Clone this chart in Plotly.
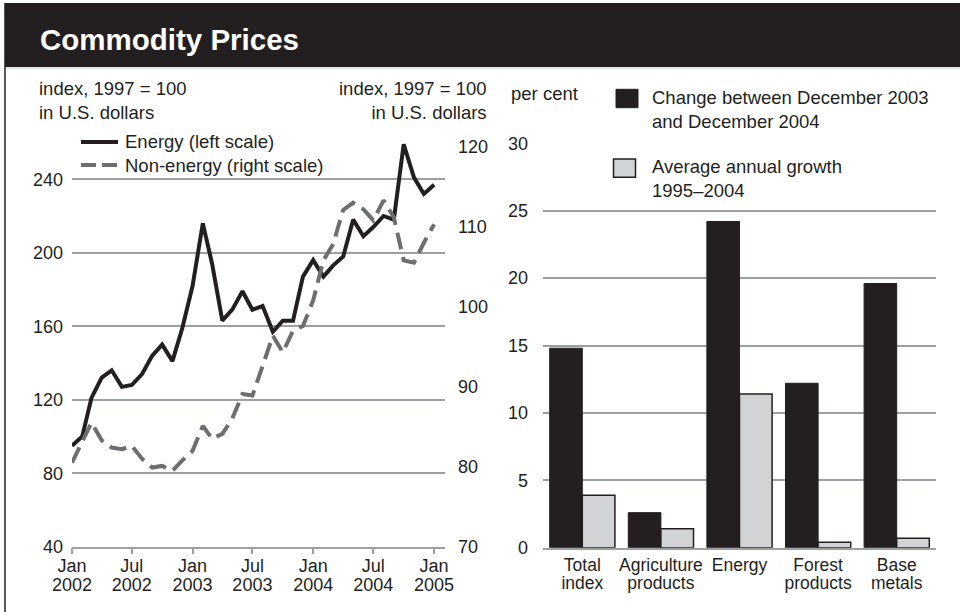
import plotly.graph_objects as go

# ---------------- data ----------------
months = [f"{y}-{m:02d}-01" for y in (2002, 2003, 2004) for m in range(1, 13)] + ["2005-01-01"]
energy = [95, 100, 121, 132, 136, 127, 128, 134, 144, 150, 141, 159,
          182, 216, 194, 163, 169, 179, 169, 171, 157, 163, 163, 187,
          196, 187, 193, 198, 218, 209, 214, 220, 218, 259, 241, 232,
          237]
non_energy = [80.5, 83.0, 85.5, 83.3, 82.4, 82.2, 82.6, 81.0, 79.9, 80.1, 79.5, 80.8,
              82.0, 85.1, 83.5, 84.1, 86.0, 89.1, 88.9, 92.6, 96.4, 94.3, 97.0, 97.6,
              100.8, 105.8, 107.8, 112.1, 113.0, 112.2, 110.8, 113.3, 111.2, 105.8, 105.5, 108.0,
              110.3]
left_ticks = [40, 80, 120, 160, 200, 240]
right_ticks = [70, 80, 90, 100, 110, 120]

categories = ["Total index", "Agriculture products", "Energy", "Forest products", "Base metals"]
cat_line1 = ["Total", "Agriculture", "Energy", "Forest", "Base"]
cat_line2 = ["index", "products", "", "products", "metals"]
change_0304 = [14.8, 2.6, 24.2, 12.2, 19.6]
avg_growth = [3.9, 1.4, 11.4, 0.4, 0.7]
bar_ticks = [0, 5, 10, 15, 20, 25, 30]

energy_name = "Energy (left scale)"
nonenergy_name = "Non-energy (right scale)"
change_name = "Change between December 2003<br>and December 2004"
growth_name = "Average annual growth<br>1995–2004"

# ---------------- style ----------------
W, H = 960, 612
INK = "#231f20"
DASHGRAY = "#6d6e71"
LIGHT = "#d1d3d4"
GRID = "#9d9fa2"
FONT = "Liberation Sans, Arial, sans-serif"
FS = 18
CFS = 17.5
AFS = 18.5

def px(x):
    return x / W

def py(y):
    return (H - y) / H

date_range = ["2002-01-01", "2005-02-03"]

fig = go.Figure()
fig.add_trace(go.Scatter(x=months, y=energy, name=energy_name, mode="lines",
                         line=dict(color=INK, width=4), xaxis="x", yaxis="y",
                         showlegend=False))
fig.add_trace(go.Scatter(x=months, y=non_energy, name=nonenergy_name, mode="lines",
                         line=dict(color=DASHGRAY, width=4, dash="17px,8px"),
                         xaxis="x", yaxis="y2", showlegend=False))
# invisible carrier so the year-label axis is drawn
fig.add_trace(go.Scatter(x=months, y=energy, mode="lines", line=dict(width=0), opacity=0,
                         hoverinfo="skip", xaxis="x3", yaxis="y", showlegend=False))
fig.add_trace(go.Bar(x=categories, y=change_0304, name=change_name,
                     marker=dict(color=INK, line=dict(color=INK, width=1)),
                     xaxis="x2", yaxis="y3", showlegend=False))
fig.add_trace(go.Bar(x=categories, y=avg_growth, name=growth_name,
                     marker=dict(color=LIGHT, line=dict(color=INK, width=1.5)),
                     xaxis="x2", yaxis="y3", showlegend=False))
# invisible carrier so the second category-label line axis is drawn
fig.add_trace(go.Scatter(x=list(range(len(categories))), y=change_0304, mode="lines",
                         line=dict(width=0), opacity=0, hoverinfo="skip",
                         xaxis="x4", yaxis="y3", showlegend=False))

tickfont = dict(family=FONT, size=FS, color=INK)
catfont = dict(family=FONT, size=CFS, color=INK)
ydom = [py(546.7), py(130)]
bydom = [py(547.7), py(143.3)]

fig.update_layout(
    template="none",
    width=W, height=H, autosize=False,
    margin=dict(l=0, r=0, t=0, b=0, pad=0),
    paper_bgcolor="white", plot_bgcolor="rgba(0,0,0,0)",
    font=dict(family=FONT, size=FS, color=INK),
    barmode="group", bargap=0.17, bargroupgap=0,
    xaxis=dict(domain=[px(72), px(445)], type="date", range=date_range,
               dtick="M6", tick0="2002-01-01", tickformat="%b",
               showgrid=False, showline=True, linecolor=GRID, linewidth=1.5,
               ticks="outside", ticklen=6, tickcolor=GRID, tickwidth=1.5,
               ticklabelstandoff=-4, tickfont=tickfont, anchor="y", zeroline=False,
               automargin=False),
    xaxis3=dict(overlaying="x", anchor="y", side="bottom", type="date", range=date_range,
                dtick="M6", tick0="2002-01-01", tickformat="%Y",
                showgrid=False, showline=False, ticks="outside", ticklen=6,
                tickcolor="rgba(0,0,0,0)", ticklabelstandoff=16, tickfont=tickfont,
                zeroline=False, automargin=False),
    yaxis=dict(domain=ydom, range=[40, 266.8], tickvals=left_ticks,
               showgrid=True, gridcolor=GRID, gridwidth=1.5, zeroline=False,
               showline=False, ticks="", ticklabelstandoff=8, tickfont=tickfont,
               anchor="x", automargin=False),
    yaxis2=dict(overlaying="y", side="right", anchor="x", range=[70, 122.1],
                tickvals=right_ticks, showgrid=False, zeroline=False, showline=False,
                ticks="", ticklabelstandoff=12, tickfont=tickfont, automargin=False),
    xaxis2=dict(domain=[px(543), px(936)], type="category", range=[-0.5, 4.5],
                tickvals=categories, ticktext=cat_line1, showgrid=False,
                showline=True, linecolor=GRID, linewidth=1.5, ticks="",
                ticklabelstandoff=1, tickfont=catfont, anchor="y3", automargin=False),
    xaxis4=dict(overlaying="x2", anchor="y3", side="bottom", type="linear",
                range=[-0.5, 4.5], tickvals=list(range(len(categories))),
                ticktext=cat_line2, showgrid=False, showline=False, ticks="",
                zeroline=False, ticklabelstandoff=23, tickfont=catfont, automargin=False),
    yaxis3=dict(domain=bydom, range=[0, 30], tickvals=bar_ticks, showgrid=True,
                gridcolor=GRID, gridwidth=1.5, zeroline=False, showline=False,
                ticks="", ticklabelstandoff=14, tickfont=tickfont, anchor="x2",
                automargin=False),
)

shapes = [
    # title band
    dict(type="rect", xref="paper", yref="paper", x0=px(5), x1=1, y0=py(67), y1=py(3),
         fillcolor=INK, line=dict(width=0), layer="below"),
    dict(type="line", xref="paper", yref="paper", x0=px(5), x1=1, y0=py(68), y1=py(68),
         line=dict(color="#c8cacc", width=1)),
    # left frame line
    dict(type="line", xref="paper", yref="paper", x0=px(5), x1=px(5), y0=0, y1=py(3),
         line=dict(color=INK, width=1.5)),
    # line legend samples
    dict(type="line", xref="paper", yref="paper", x0=px(81), x1=px(118), y0=py(142), y1=py(142),
         line=dict(color=INK, width=4)),
    dict(type="line", xref="paper", yref="paper", x0=px(81), x1=px(118), y0=py(165), y1=py(165),
         line=dict(color=DASHGRAY, width=4, dash="15px,6px")),
    # bar legend swatches
    dict(type="rect", xref="paper", yref="paper", x0=px(616), x1=px(638), y0=py(107.7), y1=py(89.3),
         fillcolor=INK, line=dict(color=INK, width=1)),
    dict(type="rect", xref="paper", yref="paper", x0=px(613.5), x1=px(635.5), y0=py(177.3), y1=py(159),
         fillcolor=LIGHT, line=dict(color=INK, width=1.5)),
]
fig.update_layout(shapes=shapes)

def ann(text, x, y, xanchor="left", size=AFS, color=INK, bold=False, align="left"):
    fig.add_annotation(text=f"<b>{text}</b>" if bold else text, xref="paper", yref="paper",
                       x=px(x), y=py(y), xanchor=xanchor, yanchor="middle",
                       showarrow=False, align=align,
                       font=dict(family=FONT, size=size, color=color))

ann("Commodity Prices", 38, 40, size=29.5, color="white", bold=True)
ann("index, 1997 = 100<br>in U.S. dollars", 37, 100.5)
ann("index, 1997 = 100<br>in U.S. dollars", 489, 100.5, xanchor="right", align="right")
ann("per cent", 509, 93)
ann(energy_name, 123, 142)
ann(nonenergy_name, 123, 165)
ann(change_name, 650, 109.5)
ann(growth_name, 650, 179)

fig.write_html("out.html", config={"displayModeBar": False},
               post_script="document.body.style.margin='0';document.body.style.padding='0';")
